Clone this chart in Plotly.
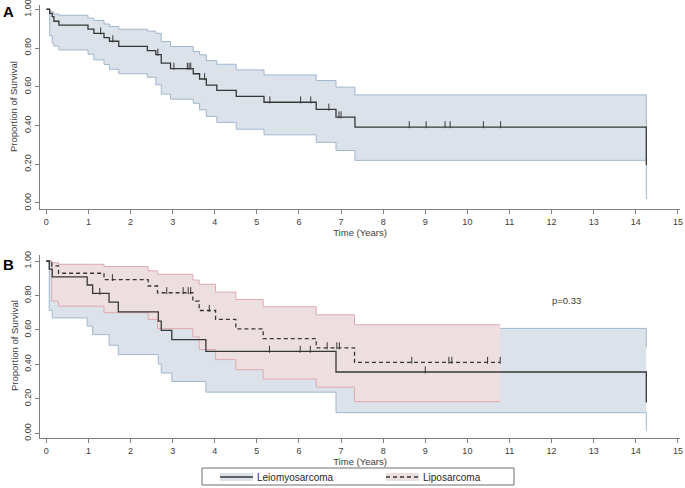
import numpy as np
import plotly.graph_objects as go

# ---- panel A: all patients ----
a_time = [0, 0.08, 0.14, 0.18, 0.30, 0.99, 1.13, 1.37, 1.50, 1.72, 2.40, 2.60, 2.73, 2.95,
          3.49, 3.64, 3.80, 4.05, 4.51, 5.17, 6.41, 6.88, 7.33, 14.25]
a_surv = [1.0, 0.979, 0.962, 0.938, 0.918, 0.897, 0.876, 0.854, 0.835, 0.808, 0.787, 0.766,
          0.722, 0.694, 0.667, 0.640, 0.608, 0.581, 0.550, 0.520, 0.483, 0.443, 0.392, 0.196]
a_upper = [1.0, 0.99, 0.985, 0.975, 0.969, 0.954, 0.942, 0.924, 0.911, 0.897, 0.887, 0.876,
           0.833, 0.808, 0.782, 0.765, 0.735, 0.716, 0.687, 0.661, 0.632, 0.598, 0.558, 0.37]
a_lower = [1.0, 0.863, 0.825, 0.81, 0.79, 0.768, 0.739, 0.715, 0.69, 0.667, 0.649, 0.61,
           0.562, 0.536, 0.515, 0.481, 0.447, 0.416, 0.381, 0.352, 0.313, 0.271, 0.22, 0.02]
a_censor = [1.29, 1.58, 2.65, 3.03, 3.35, 3.39, 3.43, 3.76, 5.31, 6.04, 6.28, 6.71, 6.95,
            7.0, 8.62, 9.02, 9.47, 9.59, 10.38, 10.79]

# ---- panel B: Leiomyosarcoma ----
leio_time = [0, 0.07, 0.14, 0.97, 1.10, 1.49, 1.71, 2.66, 2.73, 2.98, 3.79, 6.88, 14.25]
leio_surv = [1.0, 0.953, 0.908, 0.861, 0.812, 0.762, 0.705, 0.651, 0.597, 0.544, 0.476, 0.356, 0.179]
leio_upper = [1.0, 0.99, 0.98, 0.96, 0.93, 0.90, 0.87, 0.83, 0.79, 0.75, 0.67, 0.609, 0.5]
leio_lower = [1.0, 0.713, 0.670, 0.622, 0.573, 0.511, 0.457, 0.402, 0.35, 0.301, 0.239, 0.12, 0.015]
leio_censor = [1.27, 5.3, 6.03, 6.27, 9.0]

# ---- panel B: Liposarcoma ----
lipo_time = [0, 0.13, 0.29, 1.37, 2.42, 2.64, 3.48, 3.63, 4.02, 4.50, 5.15, 6.41, 7.32, 10.78]
lipo_surv = [1.0, 0.972, 0.929, 0.892, 0.855, 0.816, 0.767, 0.713, 0.661, 0.606, 0.55, 0.496, 0.412, 0.412]
lipo_upper = [1.0, 0.99, 0.981, 0.968, 0.943, 0.923, 0.89, 0.865, 0.82, 0.777, 0.735, 0.688, 0.63, 0.63]
lipo_lower = [1.0, 0.767, 0.738, 0.70, 0.661, 0.608, 0.56, 0.486, 0.428, 0.369, 0.315, 0.268, 0.184, 0.184]
lipo_censor = [1.57, 2.86, 3.25, 3.37, 3.43, 3.87, 6.67, 6.9, 6.96, 8.68, 9.56, 9.63, 10.48, 10.78]

x_ticks = list(range(0, 16))
y_ticks = [0, 0.2, 0.4, 0.6, 0.8, 1.0]
group_names = ["Leiomyosarcoma", "Liposarcoma"]

FONT = "Liberation Sans, Arial, sans-serif"
BLUE_FILL = "rgb(220,226,233)"
BLUE_LINE = "rgb(160,182,206)"
RED_FILL = "rgb(237,222,224)"
RED_LINE = "rgb(221,170,176)"
DARK = "rgb(55,55,55)"
AXIS = "rgb(128,128,128)"
TXT = "rgb(60,60,60)"
DASH = "4px,3px"

W, H, ML, MR = 685, 488, 40, 5


def px_x(px):
    # figure pixel -> paper x
    return (px - ML) / (W - ML - MR)


def px_y(py):
    # figure pixel -> paper y (no top/bottom margin)
    return 1 - py / H


def step_value(times, surv, t):
    # survival value of a step function at time t
    idx = np.searchsorted(times, t, side="right") - 1
    return np.asarray(surv)[idx]


def add_band(fig, times, lower, upper, fill, line, xa, ya):
    fig.add_trace(go.Scatter(x=times, y=lower, mode="lines", line_shape="hv",
                             line=dict(color=line, width=1), xaxis=xa, yaxis=ya,
                             showlegend=False, hoverinfo="skip"))
    fig.add_trace(go.Scatter(x=times, y=upper, mode="lines", line_shape="hv",
                             line=dict(color=line, width=1), fill="tonexty", fillcolor=fill,
                             xaxis=xa, yaxis=ya, showlegend=False, hoverinfo="skip"))


def add_curve(fig, times, surv, censor, dash, xa, ya):
    fig.add_trace(go.Scatter(x=times, y=surv, mode="lines", line_shape="hv",
                             line=dict(color=DARK, width=1.3, dash=dash),
                             xaxis=xa, yaxis=ya, showlegend=False))
    cy = step_value(times, surv, np.array(censor)) + 0.012
    fig.add_trace(go.Scatter(x=censor, y=cy, mode="markers",
                             marker=dict(symbol="line-ns", size=5,
                                         line=dict(color=DARK, width=1)),
                             xaxis=xa, yaxis=ya, showlegend=False, hoverinfo="skip"))


fig = go.Figure()

# panel A
add_band(fig, a_time, a_lower, a_upper, BLUE_FILL, BLUE_LINE, "x", "y")
add_curve(fig, a_time, a_surv, a_censor, "solid", "x", "y")

# panel B
add_band(fig, leio_time, leio_lower, leio_upper, BLUE_FILL, BLUE_LINE, "x2", "y2")
add_band(fig, lipo_time, lipo_lower, lipo_upper, RED_FILL, RED_LINE, "x2", "y2")
add_curve(fig, leio_time, leio_surv, leio_censor, "solid", "x2", "y2")
add_curve(fig, lipo_time, lipo_surv, lipo_censor, DASH, "x2", "y2")

xaxis_style = dict(range=[-0.15, 15.05], tickvals=x_ticks, showline=True, linecolor=AXIS,
                   linewidth=1.3, ticks="outside", ticklen=4, tickcolor=AXIS, automargin=False,
                   showgrid=False, zeroline=False, tickfont=dict(size=9, color=TXT),
                   ticklabeloverflow="allow",
                   title=dict(text="Time (Years)", font=dict(size=9.5, color=TXT), standoff=2))
yaxis_style = dict(tickvals=y_ticks, tickformat=".2f", tickangle=-90, showline=True,
                   linecolor=AXIS, linewidth=1.3, ticks="outside", ticklen=4, automargin=False,
                   tickcolor=AXIS, showgrid=False, zeroline=False, ticklabeloverflow="allow",
                   tickfont=dict(size=9, color=TXT))

# hand-drawn legend box in the style of the original (filled swatch + line)
shapes = [dict(type="rect", xref="paper", yref="paper", x0=px_x(202), x1=px_x(514),
               y0=px_y(485), y1=px_y(468), line=dict(color="rgb(110,110,110)", width=1),
               fillcolor="white")]
legend_ann = []
for name, fill, dash, x0 in zip(group_names, [BLUE_FILL, RED_FILL], ["solid", DASH], [220, 386]):
    shapes.append(dict(type="rect", xref="paper", yref="paper", x0=px_x(x0), x1=px_x(x0 + 33),
                       y0=px_y(481), y1=px_y(473), line=dict(width=0), fillcolor=fill))
    shapes.append(dict(type="line", xref="paper", yref="paper", x0=px_x(x0), x1=px_x(x0 + 33),
                       y0=px_y(477), y1=px_y(477), line=dict(color=DARK, width=1.3, dash=dash)))
    legend_ann.append(dict(text=name, x=px_x(x0 + 35), y=px_y(477), xref="paper", yref="paper",
                           showarrow=False, xanchor="left", yanchor="middle",
                           font=dict(size=10, color="rgb(40,40,40)")))

# y titles as rotated annotations, kept clear of the tick labels
y_titles = [dict(text="Proportion of Survival", x=px_x(14), y=px_y(yc), xref="paper",
                 yref="paper", showarrow=False, textangle=-90, xanchor="center",
                 yanchor="middle", font=dict(size=9.5, color=TXT)) for yc in (107, 346)]

fig.update_layout(
    width=W, height=H,
    margin=dict(l=ML, r=MR, t=0, b=0),
    paper_bgcolor="white", plot_bgcolor="white",
    font=dict(family=FONT, color=TXT),
    showlegend=False,
    xaxis=dict(domain=[0, 1], anchor="y", **xaxis_style),
    yaxis=dict(domain=[px_y(209), px_y(5)], anchor="x", range=[-0.031, 1.022], **yaxis_style),
    xaxis2=dict(domain=[0, 1], anchor="y2", **xaxis_style),
    yaxis2=dict(domain=[px_y(438), px_y(255)], anchor="x2", range=[-0.027, 1.035], **yaxis_style),
    shapes=shapes,
    annotations=[
        dict(text="<b>A</b>", x=px_x(1), y=px_y(1), xref="paper", yref="paper", showarrow=False,
             font=dict(size=15, color="black"), xanchor="left", yanchor="top"),
        dict(text="<b>B</b>", x=px_x(1), y=px_y(254), xref="paper", yref="paper", showarrow=False,
             font=dict(size=15, color="black"), xanchor="left", yanchor="top"),
        dict(text="p=0.33", x=12.36, y=0.77, xref="x2", yref="y2", showarrow=False,
             font=dict(size=9.5, color=TXT)),
    ] + y_titles + legend_ann,
)

# the page's default body margin would shift the 685x488 figure; drop it
fig.write_html("out.html", config={"displayModeBar": False},
               post_script="document.body.style.margin='0';document.body.style.overflow='hidden';")
